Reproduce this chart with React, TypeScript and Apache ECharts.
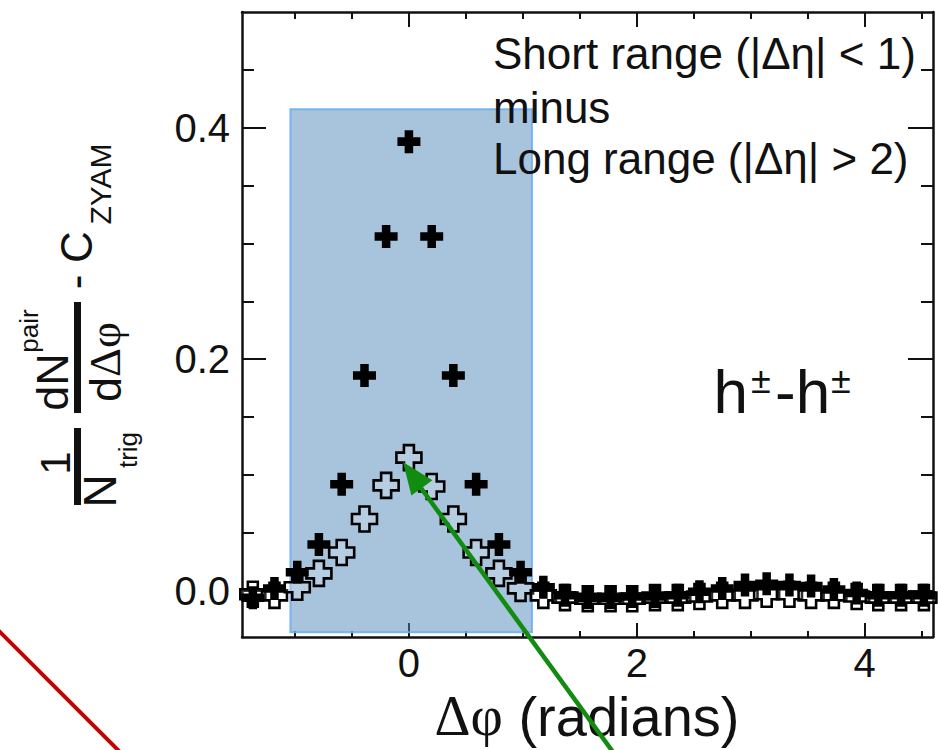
import React, { useEffect, useRef } from "react";
import * as echarts from "echarts";

// Δφ bin centres (radians)
const phiBins = [
  -1.37, -1.18, -0.98, -0.79, -0.59, -0.39, -0.2, 0, 0.2, 0.39, 0.59, 0.79, 0.98, 1.18,
  1.37, 1.57, 1.77, 1.96, 2.16, 2.36, 2.55, 2.75, 2.95, 3.14, 3.34, 3.53, 3.73, 3.93,
  4.12, 4.32, 4.52,
];
// filled crosses
const filledValues = [
  -0.006, 0.002, 0.016, 0.04, 0.092, 0.186, 0.306, 0.388, 0.306, 0.186, 0.092, 0.04,
  0.016, 0.003, -0.004, -0.006, -0.006, -0.005, -0.005, -0.004, -0.001, 0.002, 0.005,
  0.006, 0.005, 0.004, 0.001, -0.002, -0.004, -0.004, -0.004,
];
// open crosses
const openValues = [
  -0.003, -0.004, 0.003, 0.015, 0.033, 0.062, 0.091, 0.115, 0.09, 0.062, 0.033, 0.015,
  0.002, -0.004, -0.006, -0.007, -0.007, -0.007, -0.006, -0.006, -0.005, -0.004, -0.004,
  -0.003, -0.003, -0.004, -0.004, -0.005, -0.006, -0.006, -0.006,
];
const xMajorTicks = [0, 2, 4];
const xMinorTicks = [-1, -0.5, 0.5, 1, 1.5, 2.5, 3, 3.5, 4.5];
const yMajorTicks = [0, 0.2, 0.4];
const yMinorTicks = [0.05, 0.1, 0.15, 0.25, 0.3, 0.35, 0.45];
const X_MIN = -1.465;
const X_MAX = 4.6;
const Y_MIN = -0.04;
const Y_MAX = 0.5;
const bandX = [-1.04, 1.08];
const bandY = [-0.036, 0.416];

const sans = "'Liberation Sans', Arial, Helvetica, sans-serif";
const serif = "'Liberation Serif', 'Times New Roman', serif";
const ink = "#111111";

const plusFilled = "path://M6.3,0H13.7V6.3H20V13.7H13.7V20H6.3V13.7H0V6.3H6.3Z";
const plusOpen = "path://M6,0H14V6H20V14H14V20H6V14H0V6H6Z";

function txt(text: string, x: number, y: number, size: number, o: any = {}) {
  return {
    type: "text",
    x,
    y,
    z: 100,
    rotation: o.rot || 0,
    style: {
      text,
      fontSize: size,
      fontFamily: o.family || sans,
      fill: ink,
      align: o.align || "center",
      verticalAlign: "middle",
    },
  };
}

export default function App() {
  const ref = useRef<HTMLDivElement>(null);
  useEffect(() => {
    if (!ref.current) return;
    const chart = echarts.init(ref.current, null, { renderer: "svg" });
    const R = Math.PI / 2;
    const lineStyle = { color: ink, width: 2.5 };
    const tickStyle = { color: ink, width: 2 };
    const xAx = (position: string, ticks: number[], len: number, labels: boolean, line: boolean) => ({
      type: "value",
      position,
      min: X_MIN,
      max: X_MAX,
      splitLine: { show: false },
      axisLine: { show: line, onZero: false, lineStyle },
      axisTick: { show: true, inside: true, length: len, customValues: ticks, lineStyle: tickStyle },
      axisLabel: labels
        ? {
            show: true,
            customValues: ticks,
            fontSize: 40,
            lineHeight: 36,
            fontFamily: sans,
            color: ink,
            margin: 8,
          }
        : { show: false },
    });
    const yAx = (position: string, ticks: number[], len: number, labels: boolean, line: boolean) => ({
      type: "value",
      position,
      min: Y_MIN,
      max: Y_MAX,
      splitLine: { show: false },
      axisLine: { show: line, onZero: false, lineStyle },
      axisTick: { show: true, inside: true, length: len, customValues: ticks, lineStyle: tickStyle },
      axisLabel: labels
        ? {
            show: true,
            customValues: ticks,
            fontSize: 40,
            fontFamily: sans,
            color: ink,
            margin: 12,
            formatter: (v: number) => v.toFixed(1),
          }
        : { show: false },
    });

    const option: any = {
      animation: false,
      backgroundColor: "#ffffff",
      grid: { left: 242, right: 5, top: 12, bottom: 113 },
      xAxis: [
        xAx("bottom", xMajorTicks, 14, true, true),
        xAx("bottom", xMinorTicks, 6, false, false),
        xAx("top", xMajorTicks, 15, false, true),
        xAx("top", xMinorTicks, 7, false, false),
      ],
      yAxis: [
        yAx("left", yMajorTicks, 24, true, true),
        yAx("left", yMinorTicks, 12, false, false),
        yAx("right", yMajorTicks, 25, false, true),
        yAx("right", yMinorTicks, 12, false, false),
      ],
      series: [
        {
          type: "scatter",
          name: "open",
          z: 3,
          data: phiBins.map((x, i) => [x, openValues[i]]),
          symbol: plusOpen,
          symbolSize: 25,
          itemStyle: {
            color: "rgba(255,255,255,0.18)",
            borderColor: "#000",
            borderWidth: 2.6,
            opacity: 1,
          },
          markArea: {
            silent: true,
            itemStyle: {
              color: "rgba(81,135,185,0.5)",
              borderColor: "rgba(110,175,240,0.9)",
              borderWidth: 2,
              opacity: 1,
            },
            data: [[{ coord: [bandX[0], bandY[1]] }, { coord: [bandX[1], bandY[0]] }]],
          },
        },
        {
          type: "scatter",
          name: "filled",
          z: 4,
          data: phiBins.map((x, i) => [x, filledValues[i]]),
          symbol: plusFilled,
          symbolSize: 23,
          itemStyle: { color: "#000", opacity: 1 },
        },
      ],
      graphic: {
        elements: [
          // annotation text
          txt("Short range (|Δη| < 1)", 493, 53, 44, { align: "left" }),
          txt("minus", 493, 107, 44, { align: "left" }),
          txt("Long range (|Δη| > 2)", 493, 158, 44, { align: "left" }),
          txt("h", 713.5, 391.5, 62, { align: "left" }),
          txt("±", 751, 380, 36, { align: "left" }),
          txt("-h", 775, 391.5, 62, { align: "left" }),
          txt("±", 831, 380, 36, { align: "left" }),
          // x title
          {
            type: "text",
            x: 587,
            y: 716,
            z: 100,
            style: {
              text: "{s|Δφ}{t| (radians)}",
              align: "center",
              verticalAlign: "middle",
              fill: ink,
              rich: {
                s: { fontFamily: serif, fontSize: 56, lineHeight: 56, fill: ink },
                t: { fontFamily: sans, fontSize: 56, lineHeight: 56, fill: ink },
              },
            },
          },
          // y title pieces (rotated)
          txt("1", 55, 463, 42, { rot: R }),
          { type: "rect", z: 100, shape: { x: 74, y: 428, width: 7, height: 77 }, style: { fill: ink } },
          txt("N", 100, 491, 46, { rot: R }),
          txt("trig", 128, 450, 26, { rot: R }),
          txt("dN", 52, 382, 45, { rot: R }),
          txt("pair", 29, 331, 26, { rot: R }),
          { type: "rect", z: 100, shape: { x: 74, y: 302, width: 7, height: 111 }, style: { fill: ink } },
          {
            type: "text",
            x: 105,
            y: 362,
            z: 100,
            rotation: R,
            style: {
              text: "{a|d}{b|Δφ}",
              align: "center",
              verticalAlign: "middle",
              fill: ink,
              rich: {
                a: { fontFamily: sans, fontSize: 45, fill: ink },
                b: { fontFamily: serif, fontSize: 45, fill: ink },
              },
            },
          },
          txt("-", 75, 282, 44, { rot: R }),
          txt("C", 76, 247, 44, { rot: R }),
          txt("ZYAM", 100, 184, 30, { rot: R }),
          // green arrow
          {
            type: "line",
            z: 110,
            shape: { x1: 613, y1: 752, x2: 421, y2: 488 },
            style: { stroke: "#118c11", lineWidth: 4.5 },
          },
          {
            type: "polygon",
            z: 110,
            shape: { points: [[403, 462], [411.4, 495.6], [432.4, 480.2]] },
            style: { fill: "#118c11" },
          },
          // red line
          {
            type: "line",
            z: 110,
            shape: { x1: -5, y1: 627, x2: 124, y2: 756 },
            style: { stroke: "#c80000", lineWidth: 4 },
          },
        ],
      },
    };
    chart.setOption(option);
    return () => chart.dispose();
  }, []);
  return (
    <div
      ref={ref}
      style={{ position: "absolute", left: 0, top: 0, width: 938, height: 750, background: "#fff" }}
    />
  );
}
